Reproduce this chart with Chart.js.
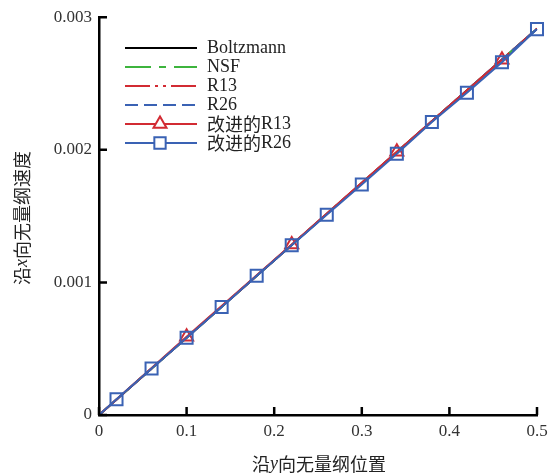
<!DOCTYPE html>
<html lang="zh">
<head>
<meta charset="UTF-8">
<title>沿y向无量纲速度剖面</title>
<script src="https://cdn.jsdelivr.net/npm/chart.js"></script>
<style>
  body { margin: 0; background: #fff; }
</style>
</head>
<body>
<canvas id="Chart" width="558" height="475"></canvas>
<script>
// 连续曲线的取样点（沿y向无量纲位置）
const lineX = [0, 0.1, 0.2, 0.3, 0.4, 0.5];
const boltzmann = [0, 0.000583, 0.001166, 0.001749, 0.002332, 0.002912];
const nsf = [0, 0.000583, 0.001166, 0.001749, 0.002332, 0.002912];
const r13 = [0, 0.000584, 0.001167, 0.001750, 0.002333, 0.002914];
const r26 = [0, 0.000583, 0.001166, 0.001749, 0.002332, 0.002913];

// 改进的R13（三角形标记）
const r13mX = [0, 0.1, 0.22, 0.34, 0.46];
const r13mY = [0, 0.00059, 0.001285, 0.001985, 0.00268];

// 改进的R26（方形标记）
const r26mX = [0, 0.02, 0.06, 0.1, 0.14, 0.18, 0.22, 0.26, 0.3, 0.34, 0.38, 0.42, 0.46, 0.5];
const r26mY = [0, 0.000118, 0.00035, 0.000583, 0.000815, 0.00105, 0.00128, 0.00151, 0.001738, 0.00197, 0.00221, 0.00243, 0.00266, 0.00291];

const xTicks = [0, 0.1, 0.2, 0.3, 0.4, 0.5];
const yTicks = [0, 0.001, 0.002, 0.003];

const BLACK = '#000000';
const GREEN = '#3db43d';
const RED = '#d22b33';
const BLUE = '#3a62b4';

function pts(xs, ys) {
    return xs.map((x, i) => ({ x: x, y: ys[i] }));
}

const serif = '"Liberation Serif", "Times New Roman", serif';
const cjk = '"Noto Sans CJK SC", "Liberation Serif", serif';

// 自绘: 朝内刻度、图例、坐标轴标题（含斜体字母）
const extras = {
    id: 'extras',
    afterDraw(chart) {
        const ctx = chart.ctx;
        const xs = chart.scales.x, ys = chart.scales.y;
        const a = chart.chartArea;
        ctx.save();
        ctx.strokeStyle = '#000';
        ctx.lineWidth = 2.5;
        ctx.beginPath();
        xTicks.forEach(v => {
            const px = xs.getPixelForValue(v);
            ctx.moveTo(px, a.bottom);
            ctx.lineTo(px, a.bottom - 8);
        });
        yTicks.forEach(v => {
            const py = ys.getPixelForValue(v);
            ctx.moveTo(a.left, py);
            ctx.lineTo(a.left + 8, py);
        });
        ctx.stroke();

        // 图例
        const order = [5, 4, 3, 2, 1, 0];
        order.forEach((di, i) => {
            const ds = chart.data.datasets[di];
            const y = 48 + i * 19;
            ctx.save();
            ctx.strokeStyle = ds.borderColor;
            ctx.lineWidth = 2;
            ctx.setLineDash(ds.borderDash || []);
            ctx.beginPath();
            ctx.moveTo(125, y);
            ctx.lineTo(197, y);
            ctx.stroke();
            ctx.restore();
            if (ds.pointStyle) {
                ctx.fillStyle = '#fff';
                ctx.strokeStyle = ds.borderColor;
                ctx.lineWidth = 2;
                Chart.helpers.drawPoint(ctx, {
                    pointStyle: ds.pointStyle,
                    radius: ds.legendRadius,
                    borderWidth: 2
                }, 160, y);
            }
            ctx.textBaseline = 'middle';
            ctx.textAlign = 'left';
            drawMixed(ctx, ds.labelParts, 207, y, 18);
        });

        // x 轴标题
        const xt = [['沿', cjk, false], ['y', serif, true], ['向无量纲位置', cjk, false]];
        ctx.textBaseline = 'middle';
        const wx = measureMixed(ctx, xt, 18);
        drawMixed(ctx, xt, 319 - wx / 2, 464, 18);

        // y 轴标题
        const yt = [['沿', cjk, false], ['x', serif, true], ['向无量纲速度', cjk, false]];
        ctx.save();
        ctx.translate(22, 218);
        ctx.rotate(-Math.PI / 2);
        const wy = measureMixed(ctx, yt, 18);
        drawMixed(ctx, yt, -wy / 2, 0, 18);
        ctx.restore();
        ctx.restore();
    }
};

function measureMixed(ctx, parts, size) {
    let w = 0;
    parts.forEach(p => {
        ctx.font = (p[2] ? 'italic ' : '') + size + 'px ' + p[1];
        w += ctx.measureText(p[0]).width;
    });
    return w;
}

function drawMixed(ctx, parts, x, y, size) {
    ctx.fillStyle = '#222';
    parts.forEach(p => {
        ctx.font = (p[2] ? 'italic ' : '') + size + 'px ' + p[1];
        ctx.fillText(p[0], x, y);
        x += ctx.measureText(p[0]).width;
    });
}

const canvas = document.getElementById('Chart').getContext('2d');
new Chart(canvas, {
    type: 'scatter',
    data: {
        datasets: [{
            label: '改进的R26',
            labelParts: [['改进的', cjk, false], ['R26', serif, false]],
            data: pts(r26mX, r26mY),
            showLine: true,
            clip: false,
            borderColor: BLUE,
            borderWidth: 2,
            pointStyle: 'rect',
            legendRadius: 8,
            pointRadius: c => (c.raw && c.raw.x === 0 ? 0 : 8.5),
            pointBorderWidth: 2,
            pointBackgroundColor: 'rgba(255,255,255,0)',
            pointBorderColor: BLUE
        }, {
            label: '改进的R13',
            labelParts: [['改进的', cjk, false], ['R13', serif, false]],
            data: pts(r13mX, r13mY),
            showLine: true,
            clip: false,
            borderColor: RED,
            borderWidth: 2,
            pointStyle: 'triangle',
            legendRadius: 7.5,
            pointRadius: c => (c.raw && c.raw.x === 0 ? 0 : 7.5),
            pointBorderWidth: 2,
            pointBackgroundColor: 'rgba(255,255,255,0)',
            pointBorderColor: RED
        }, {
            label: 'R26',
            labelParts: [['R26', serif, false]],
            data: pts(lineX, r26),
            showLine: true,
            borderColor: BLUE,
            borderWidth: 2,
            borderDash: [13, 6],
            pointRadius: 0
        }, {
            label: 'R13',
            labelParts: [['R13', serif, false]],
            data: pts(lineX, r13),
            showLine: true,
            borderColor: RED,
            borderWidth: 2,
            borderDash: [25, 5, 3, 5, 3, 5],
            pointRadius: 0
        }, {
            label: 'NSF',
            labelParts: [['NSF', serif, false]],
            data: pts(lineX, nsf),
            showLine: true,
            borderColor: GREEN,
            borderWidth: 2,
            borderDash: [26, 8, 7, 8],
            pointRadius: 0
        }, {
            label: 'Boltzmann',
            labelParts: [['Boltzmann', serif, false]],
            data: pts(lineX, boltzmann),
            showLine: true,
            borderColor: BLACK,
            borderWidth: 2,
            pointRadius: 0
        }]
    },
    options: {
        responsive: false,
        animation: false,
        layout: { padding: { left: 0, right: 21, top: 17, bottom: 0 } },
        plugins: {
            legend: { display: false },
            tooltip: { enabled: false }
        },
        scales: {
            x: {
                type: 'linear',
                min: 0,
                max: 0.5,
                afterBuildTicks: s => { s.ticks = xTicks.map(v => ({ value: v })); },
                afterFit: s => { s.height = 60; },
                grid: { display: false, drawTicks: false },
                border: { display: true, color: '#000', width: 2.5 },
                ticks: {
                    autoSkip: false,
                    maxRotation: 0,
                    padding: 6,
                    color: '#333',
                    font: { family: serif, size: 17 },
                    callback: v => String(v)
                }
            },
            y: {
                type: 'linear',
                min: 0,
                max: 0.003,
                afterBuildTicks: s => { s.ticks = yTicks.map(v => ({ value: v })); },
                afterFit: s => { s.width = 99; },
                grid: { display: false, drawTicks: false },
                border: { display: true, color: '#000', width: 2.5 },
                ticks: {
                    autoSkip: false,
                    padding: 7,
                    color: '#333',
                    font: { family: serif, size: 17 },
                    callback: v => String(v)
                }
            }
        }
    },
    plugins: [extras]
});
</script>
</body>
</html>
